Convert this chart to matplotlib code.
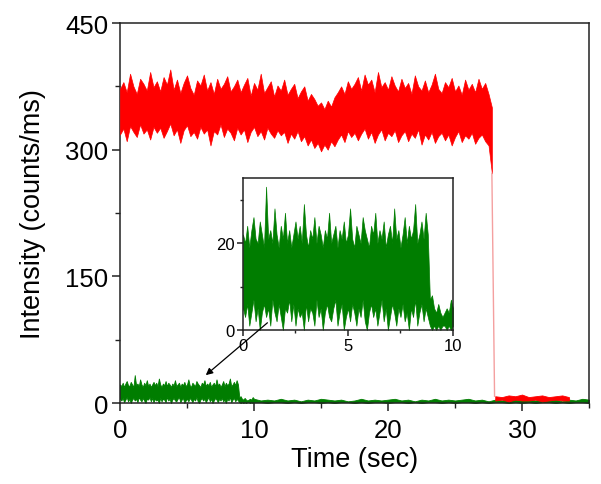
import numpy as np
import matplotlib
matplotlib.use("Agg")
import matplotlib.pyplot as plt
from matplotlib.ticker import MultipleLocator

plt.rcParams['font.family'] = ['Liberation Sans', 'DejaVu Sans']

# ---------------- data (envelopes) ----------------
RED_T0, RED_DT = 0.0, 0.25
red_hi = [372, 380, 368, 390, 375, 366, 384, 378, 370, 392, 374, 381,
          369, 386, 377, 395, 371, 383, 367, 379, 388, 373, 365, 382,
          376, 389, 370, 380, 366, 384, 372, 378, 387, 369, 375, 383,
          368, 377, 385, 364, 379, 371, 390, 367, 374, 381, 363, 376,
          370, 383, 365, 372, 378, 361, 369, 375, 358, 366, 360, 352,
          356, 348, 358, 351, 362, 368, 375, 366, 381, 372, 378, 386,
          370, 389, 377, 383, 368, 392, 374, 380, 371, 387, 376, 369,
          384, 373, 379, 366, 388, 375, 370, 382, 368, 377, 390, 372,
          367, 380, 374, 385, 369, 376, 365, 383, 371, 378, 368, 384,
          372, 379, 366, 350]
red_lo = [318, 325, 310, 328, 321, 315, 330, 319, 324, 312, 327, 320,
          326, 314, 322, 331, 317, 324, 308, 323, 329, 316, 321, 313,
          327, 319, 324, 305, 322, 318, 330, 315, 325, 320, 311, 326,
          318, 324, 309, 321, 327, 316, 322, 312, 326, 319, 314, 323,
          317, 321, 308, 319, 313, 322, 310, 316, 305, 312, 302, 308,
          298, 306, 300, 310, 304, 312, 318, 309, 322, 315, 320, 311,
          319, 325, 313, 321, 308, 318, 324, 311, 320, 316, 323, 309,
          317, 322, 310, 319, 314, 324, 306, 318, 312, 321, 308, 316,
          320, 311, 318, 305, 315, 322, 309, 317, 313, 320, 307, 314,
          318, 310, 305, 272]
RED_DROP_T = 27.95
RED_AFTER_T0, RED_AFTER_DT = 28.0, 0.5
red_after_hi = [8, 7, 9, 8, 10, 7, 8, 9, 7, 8, 9, 7]
red_after_lo = [3, 4, 2, 4, 3, 3, 4, 2, 3, 4, 3, 3]

GREEN_T0, GREEN_DT = 0.0, 0.1
green_hi = [22, 20, 24, 19, 23, 26, 21, 20, 25, 22,
            19, 33, 21, 23, 20, 28, 22, 19, 24, 21,
            27, 20, 23, 19, 22, 25, 21, 24, 20, 29,
            22, 19, 23, 21, 26, 20, 24, 22, 19, 23,
            21, 27, 20, 22, 24, 19, 23, 21, 25, 20,
            22, 28, 21, 19, 24, 22, 20, 26, 23, 21,
            19, 24, 22, 27, 20, 23, 21, 25, 19, 22,
            24, 20, 28, 21, 23, 19, 22, 26, 20, 24,
            21, 23, 29, 20, 22, 25, 21, 27, 22,
            7, 8, 5, 4, 6, 4, 3, 4, 5, 4, 7, 5]
green_lo = [5, 3, 6, 1, 4, 7, 2, 5, 0, 4,
            6, 3, 5, 1, 7, 4, 2, 6, 3, 0,
            5, 4, 7, 2, 6, 1, 5, 3, 4, 0,
            6, 2, 5, 4, 1, 7, 3, 5, 0, 4,
            6, 3, 2, 5, 7, 1, 4, 6, 0, 3,
            5, 2, 6, 4, 1, 5, 3, 7, 2, 0,
            4, 6, 3, 5, 1, 4, 7, 2, 5, 0,
            3, 6, 4, 1, 5, 3, 6, 2, 4, 0,
            5, 3, 7, 1, 4, 6, 2, 5, 3,
            1, 0, 1, 0, 1, 0, 1, 1, 0, 1, 0, 1]
GREEN_LATE_T0, GREEN_LATE_DT = 10.5, 0.5
green_late_hi = [3, 4, 3, 5, 3, 4, 2, 4, 3, 5, 4, 3, 4, 2, 3, 5, 3, 4, 3, 4,
                 5, 3, 4, 2, 4, 3, 5, 3, 4, 3, 4, 5, 3, 4, 2, 4, 3, 5, 4, 3,
                 4, 3, 5, 3, 4, 2, 4, 3, 5, 4]
green_late_lo = [1, 0, 1, 1, 0, 1, 0, 1, 1, 0, 1, 0, 1, 1, 0, 1, 0, 1, 1, 0,
                 1, 1, 0, 1, 0, 1, 1, 0, 1, 0, 1, 1, 0, 1, 0, 1, 1, 0, 1, 0,
                 1, 0, 1, 1, 0, 1, 0, 1, 1, 0]

x_ticks = [0, 10, 20, 30]
y_ticks = [0, 150, 300, 450]
inset_x_ticks = [0, 5, 10]
inset_y_ticks = [0, 20]

RED = '#ff0000'
GREEN = '#007d00'

def times(t0, dt, arr):
    return t0 + dt * np.arange(len(arr))

t_red = times(RED_T0, RED_DT, red_hi)
t_red_after = times(RED_AFTER_T0, RED_AFTER_DT, red_after_hi)
t_green = times(GREEN_T0, GREEN_DT, green_hi)
t_green_late = times(GREEN_LATE_T0, GREEN_LATE_DT, green_late_hi)
t_green_all = np.concatenate([t_green, t_green_late])
g_hi_all = np.concatenate([green_hi, green_late_hi])
g_lo_all = np.concatenate([green_lo, green_late_lo])

fig = plt.figure(figsize=(6.01, 4.85), dpi=100)
ax = fig.add_axes([0.1997, 0.167, 0.7804, 0.7835])

def style_axes(a, labelsize, length):
    for s in a.spines.values():
        s.set_linewidth(1.1)
        s.set_color('#222222')
    a.tick_params(which='major', direction='out', length=length, width=1.1,
                  labelsize=labelsize, pad=3, color='#222222')
    a.tick_params(which='minor', direction='out', length=length * 0.6, width=1.0,
                  color='#222222')

# main traces
ax.fill_between(t_green_all, g_lo_all, g_hi_all, color=GREEN, lw=0.6, zorder=2)
ax.fill_between(t_red, red_lo, red_hi, color=RED, lw=0.5, zorder=3)
ax.plot([t_red[-1], RED_DROP_T], [red_lo[-1], red_after_hi[0]], color='#f4a0a0', lw=1.0, zorder=3)
ax.fill_between(t_red_after, red_after_lo, red_after_hi, color=RED, lw=0.6, zorder=3)

ax.set_xlim(0, 35)
ax.set_ylim(0, 450)
ax.set_xticks(x_ticks)
ax.set_yticks(y_ticks)
ax.xaxis.set_minor_locator(MultipleLocator(5))
ax.yaxis.set_minor_locator(MultipleLocator(75))
style_axes(ax, 18.5, 5.5)
ax.tick_params(axis='y', which='major', pad=3)
ax.tick_params(axis='x', which='major', pad=5)
ax.set_xlabel('Time (sec)', fontsize=19.5, labelpad=3)
ax.set_ylabel('Intensity (counts/ms)', fontsize=19.5, labelpad=14)

# inset
ins = fig.add_axes([0.4043, 0.3175, 0.3494, 0.3134])
ins.fill_between(t_green, green_lo, green_hi, color=GREEN, lw=0.5)
ins.set_xlim(0, 10)
ins.set_ylim(0, 35)
ins.set_xticks(inset_x_ticks)
ins.set_yticks(inset_y_ticks)
ins.xaxis.set_minor_locator(MultipleLocator(2.5))
ins.yaxis.set_minor_locator(MultipleLocator(10))
style_axes(ins, 12, 4)
ins.tick_params(which='major', pad=2)

# arrow from inset to the main-trace region
ins.annotate('', xy=(6.4, 33), xycoords=ax.transData,
             xytext=(11.0, 95), textcoords=ax.transData,
             arrowprops=dict(arrowstyle='-|>', color='black', lw=0.9,
                             mutation_scale=10, shrinkA=0, shrinkB=0),
             annotation_clip=False)

fig.savefig('out.png', dpi=100)
